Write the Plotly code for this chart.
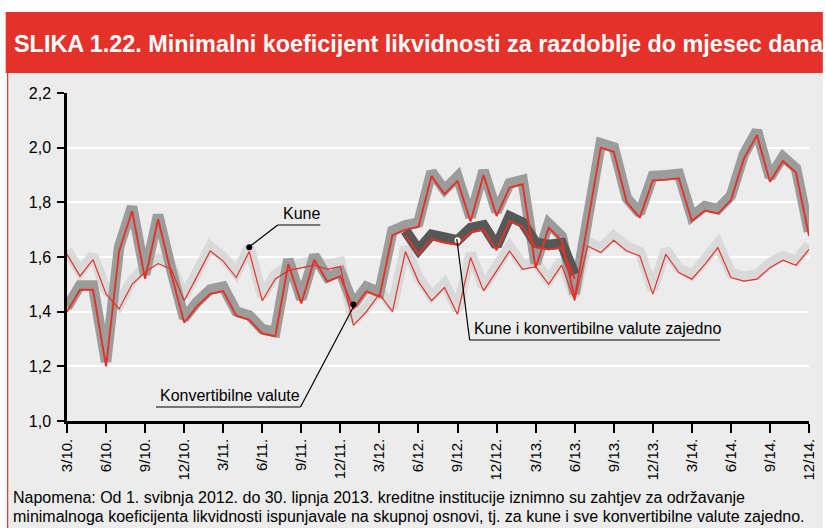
import plotly.graph_objects as go

# ---- data ----
months = [f"{m}/{y:02d}" for y in range(10, 15) for m in range(1, 13)][2:]  # 3/10 .. 12/14

kune = [1.61, 1.53, 1.59, 1.465, 1.41, 1.50, 1.545, 1.576, 1.555, 1.44,
        1.53, 1.622, 1.585, 1.525, 1.62, 1.44, 1.52, 1.55, 1.56, 1.57,
        1.555, 1.565, 1.35, 1.40, 1.465, 1.40, 1.62, 1.51, 1.44, 1.488,
        1.39, 1.598, 1.476, 1.549, 1.622, 1.555, 1.565, 1.50, 1.57, 1.44,
        1.64, 1.616, 1.661, 1.622, 1.604, 1.464, 1.61, 1.543, 1.519, 1.573,
        1.634, 1.525, 1.512, 1.519, 1.561, 1.588, 1.57, 1.628]

konv = [1.40, 1.48, 1.48, 1.20, 1.62, 1.768, 1.52, 1.738, 1.54, 1.36,
        1.42, 1.465, 1.475, 1.385, 1.37, 1.32, 1.31, 1.575, 1.43, 1.59,
        1.51, 1.53, 1.41, 1.475, 1.455, 1.68, 1.70, 1.71, 1.896, 1.83,
        1.878, 1.73, 1.90, 1.75, 1.854, 1.866, 1.56, 1.707, 1.66, 1.45,
        1.725, 2.0, 1.985, 1.80, 1.744, 1.88, 1.883, 1.888, 1.732, 1.77,
        1.759, 1.808, 1.96, 2.046, 1.875, 1.951, 1.909, 1.677]

zajedno_months = months[26:40]  # 5/12 .. 6/13
zajedno = [1.68, 1.61, 1.665, 1.652, 1.645, 1.69, 1.70, 1.625, 1.732, 1.71,
           1.636, 1.628, 1.634, 1.52]

x_tick_vals = months[::3]
x_tick_text = ["3/10.", "6/10.", "9/10.", "12/10.", "3/11.", "6/11.", "9/11.", "12/11.",
               "3/12.", "6/12.", "9/12.", "12/12.", "3/13.", "6/13.", "9/13.", "12/13.",
               "3/14.", "6/14.", "9/14.", "12/14."]
y_tick_vals = [1.0, 1.2, 1.4, 1.6, 1.8, 2.0, 2.2]
y_tick_text = ["1,0", "1,2", "1,4", "1,6", "1,8", "2,0", "2,2"]

title_text = "SLIKA 1.22. Minimalni koeficijent likvidnosti za razdoblje do mjesec dana"
note_lines = ["Napomena: Od 1. svibnja 2012. do 30. lipnja 2013. kreditne institucije iznimno su zahtjev za održavanje",
              "minimalnoga koeficijenta likvidnosti ispunjavale na skupnoj osnovi, tj. za kune i sve konvertibilne valute zajedno."]

# ---- style ----
RED = "#e4322b"
BG = "#ececec"
OFF = 0.016  # grey band sits slightly above its red line
BW = 10.5    # band width
FONT = "Liberation Sans, Arial, sans-serif"
W, H = 826, 528
L, R, T, B = 67, 9, 93, 107
YR = [1.0, 2.2]

fig = go.Figure()
# empty trace on the base subplot (ticks + grid live there)
fig.add_trace(go.Scatter(x=[], y=[], showlegend=False, hoverinfo="skip"))

def band(x, y, color, width=BW):
    fig.add_trace(go.Scatter(x=x, y=y, yaxis="y2", mode="lines",
                             line=dict(color=color, width=width), hoverinfo="skip",
                             showlegend=False))

def redline(x, y, width):
    fig.add_trace(go.Scatter(x=x, y=y, yaxis="y3", mode="lines",
                             line=dict(color=RED, width=width), hoverinfo="skip",
                             showlegend=False))

band(months, kune, "#d9d9d9")
band(months, konv, "#9c9c9b")
band(zajedno_months, zajedno, "#575756")
redline(months, kune, 1.2)
redline(months, konv, 1.9)
redline(zajedno_months, zajedno, 1.9)

# label dots on the bands
fig.add_trace(go.Scatter(x=[months[14], months[22]], y=[kune[14], konv[22]], yaxis="y4",
                         mode="markers", marker=dict(color="black", size=6),
                         hoverinfo="skip", showlegend=False))
fig.add_trace(go.Scatter(x=[months[30]], y=[zajedno[4]], yaxis="y4",
                         mode="markers", marker=dict(color="white", size=6),
                         hoverinfo="skip", showlegend=False))

pw = W - L - R
ph = H - T - B
def px(xp):  # pixel -> paper x
    return (xp - L) / pw
def py(yp):  # pixel -> paper y
    return (H - B - yp) / ph

shapes = []
shapes.append(dict(type="rect", xref="paper", yref="paper", x0=px(7), x1=px(W + 5),
                   y0=py(H + 5), y1=py(73), fillcolor=BG, line=dict(width=0), layer="below"))
shapes.append(dict(type="line", xref="paper", yref="paper", x0=px(7), x1=px(7),
                   y0=py(H + 5), y1=py(73), line=dict(color=RED, width=1.2)))
shapes.append(dict(type="rect", xref="paper", yref="paper", x0=px(5), x1=px(W + 5),
                   y0=py(73), y1=py(12), fillcolor=RED, line=dict(width=0)))

def seg(x0, y0, x1, y1):
    shapes.append(dict(type="line", xref="paper", yref="paper", x0=px(x0), y0=py(y0),
                       x1=px(x1), y1=py(y1), line=dict(color="black", width=1.2)))

seg(280, 225, 323, 225)
seg(280, 225, 251, 247)
seg(157, 407, 303, 407)
seg(303, 407, 358, 304)
seg(474, 340, 727, 340)
seg(474, 340, 461, 239)

annotations = []
annotations.append(dict(text=f"<b>{title_text}</b>", xref="paper", yref="paper",
                        x=px(11), y=py(44), xanchor="left", yanchor="middle",
                        showarrow=False, font=dict(family=FONT, size=23.4, color="white")))
annotations.append(dict(text="Kune", xref="paper", yref="paper", x=px(283), y=py(224),
                        xanchor="left", yanchor="bottom", showarrow=False,
                        font=dict(family=FONT, size=16, color="black")))
annotations.append(dict(text="Konvertibilne valute", xref="paper", yref="paper", x=px(159), y=py(406),
                        xanchor="left", yanchor="bottom", showarrow=False,
                        font=dict(family=FONT, size=16, color="black")))
annotations.append(dict(text="Kune i konvertibilne valute zajedno", xref="paper", yref="paper",
                        x=px(476), y=py(339), xanchor="left", yanchor="bottom", showarrow=False,
                        font=dict(family=FONT, size=16, color="black")))
for i, line in enumerate(note_lines):
    annotations.append(dict(text=line, xref="paper", yref="paper", x=px(10), y=py(497 + 19 * i),
                            xanchor="left", yanchor="middle", showarrow=False,
                            font=dict(family=FONT, size=16, color="black")))

hidden = dict(overlaying="y", visible=False, showgrid=False, zeroline=False)
fig.update_layout(
    width=W, height=H, margin=dict(l=L, r=R, t=T, b=B, pad=0),
    paper_bgcolor="white", plot_bgcolor=BG,
    shapes=shapes, annotations=annotations,
    xaxis=dict(type="category", categoryorder="array", categoryarray=months,
               range=[0, 57], tickmode="array", tickvals=x_tick_vals, ticktext=x_tick_text,
               tickangle=-90, ticks="outside", ticklen=9, tickwidth=1.5, tickcolor="black",
               showline=True, linecolor="black", linewidth=2.5, showgrid=False,
               zeroline=False, tickfont=dict(family=FONT, size=15, color="black")),
    yaxis=dict(range=YR, tickmode="array", tickvals=y_tick_vals, ticktext=y_tick_text,
               ticks="outside", ticklen=7, tickwidth=1.5, tickcolor="black",
               ticklabelstandoff=3,
               showline=True, linecolor="black", linewidth=2.5, showgrid=True,
               gridcolor="white", gridwidth=2, zeroline=False,
               tickfont=dict(family=FONT, size=16, color="black")),
    yaxis2=dict(range=[YR[0] - OFF, YR[1] - OFF], **hidden),
    yaxis3=dict(range=YR, **hidden),
    yaxis4=dict(range=[YR[0] - OFF, YR[1] - OFF], **hidden),
)

fig.write_html("out.html", config={"displayModeBar": False},
               post_script="document.body.style.margin='0px';")
